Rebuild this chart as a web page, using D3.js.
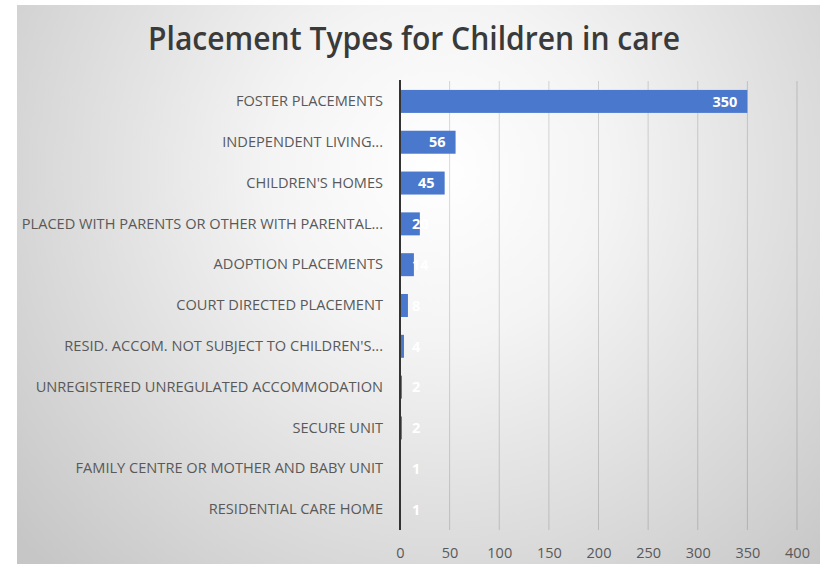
<!DOCTYPE html>
<html><head><meta charset="utf-8">
<script src="https://cdn.jsdelivr.net/npm/d3@7"></script>
<style>
html,body{margin:0;padding:0;background:#fff;}
svg{display:block;}
</style></head>
<body>
<svg id="c" width="820" height="564"></svg>
<script>
const title = "Placement Types for Children in care";
const categories = [
  "FOSTER PLACEMENTS",
  "INDEPENDENT LIVING...",
  "CHILDREN'S HOMES",
  "PLACED WITH PARENTS OR OTHER WITH PARENTAL...",
  "ADOPTION PLACEMENTS",
  "COURT DIRECTED PLACEMENT",
  "RESID. ACCOM. NOT SUBJECT TO CHILDREN'S...",
  "UNREGISTERED UNREGULATED ACCOMMODATION",
  "SECURE UNIT",
  "FAMILY CENTRE OR MOTHER AND BABY UNIT",
  "RESIDENTIAL CARE HOME"
];
const values = [350, 56, 45, 20, 14, 8, 4, 2, 2, 1, 1];
const xTicks = [0, 50, 100, 150, 200, 250, 300, 350, 400];

const svg = d3.select("#c");
const defs = svg.append("defs");
const grad = defs.append("radialGradient").attr("id","bg")
  .attr("gradientUnits","userSpaceOnUse")
  .attr("cx",440).attr("cy",170).attr("r",560);
grad.append("stop").attr("offset","0").attr("stop-color","#ffffff");
grad.append("stop").attr("offset","0.3").attr("stop-color","#f4f4f4");
grad.append("stop").attr("offset","1").attr("stop-color","#c6c6c6");

svg.append("rect").attr("x",17).attr("y",5).attr("width",803).attr("height",559).attr("fill","url(#bg)");

svg.append("text").attr("x",414).attr("y",50).attr("text-anchor","middle")
  .attr("font-family","'Open Sans', sans-serif").attr("font-weight",600)
  .attr("font-size",33).attr("fill","#3a3a3a")
  .attr("textLength",532).attr("lengthAdjust","spacingAndGlyphs")
  .text(title);

const x = d3.scaleLinear().domain([0,400]).range([400,797]);
const y = d3.scaleBand().domain(categories).range([81,530]).paddingInner(0.437).paddingOuter(0.2185);

// gridlines
svg.append("g").selectAll("line").data(xTicks.slice(1)).join("line")
  .attr("x1",d=>x(d)).attr("x2",d=>x(d)).attr("y1",81).attr("y2",530)
  .attr("stroke","rgba(0,0,0,0.15)").attr("stroke-width",1);

// x axis labels
const xa = svg.append("g").attr("transform","translate(0,530)")
  .call(d3.axisBottom(x).tickValues(xTicks).tickSize(0).tickPadding(18));
xa.select(".domain").remove();
xa.selectAll("text").attr("font-family","'Open Sans', sans-serif").attr("font-size",14.5).attr("fill","#595959");

// bars
svg.append("g").selectAll("rect").data(values).join("rect")
  .attr("x",x(0)).attr("y",(d,i)=>y(categories[i]))
  .attr("width",d=>x(d)-x(0)).attr("height",y.bandwidth())
  .attr("fill","#4a78cc");

// y axis
const ya = svg.append("g").attr("transform","translate(400,0)")
  .call(d3.axisLeft(y).tickSize(0).tickPadding(17));
ya.select(".domain").remove();
ya.selectAll("text").attr("font-family","'Open Sans', sans-serif").attr("font-size",14.6).attr("fill","#595959");
svg.append("line").attr("x1",400).attr("x2",400).attr("y1",80).attr("y2",530)
  .attr("stroke","#333333").attr("stroke-width",2);

// data labels
const lab = svg.append("g").selectAll("text").data(values).join("text")
  .attr("y",(d,i)=>y(categories[i])+y.bandwidth()/2)
  .attr("dy","0.36em")
  .attr("font-family","'Open Sans', sans-serif").attr("font-weight",700)
  .attr("font-size",14.5).attr("fill","#ffffff")
  .text(d=>d);
lab.each(function(d){
  const w = this.getComputedTextLength();
  const end = Math.max(x(d)-10, 412 + w);
  d3.select(this).attr("x", end).attr("text-anchor","end");
});
</script>
</body></html>
